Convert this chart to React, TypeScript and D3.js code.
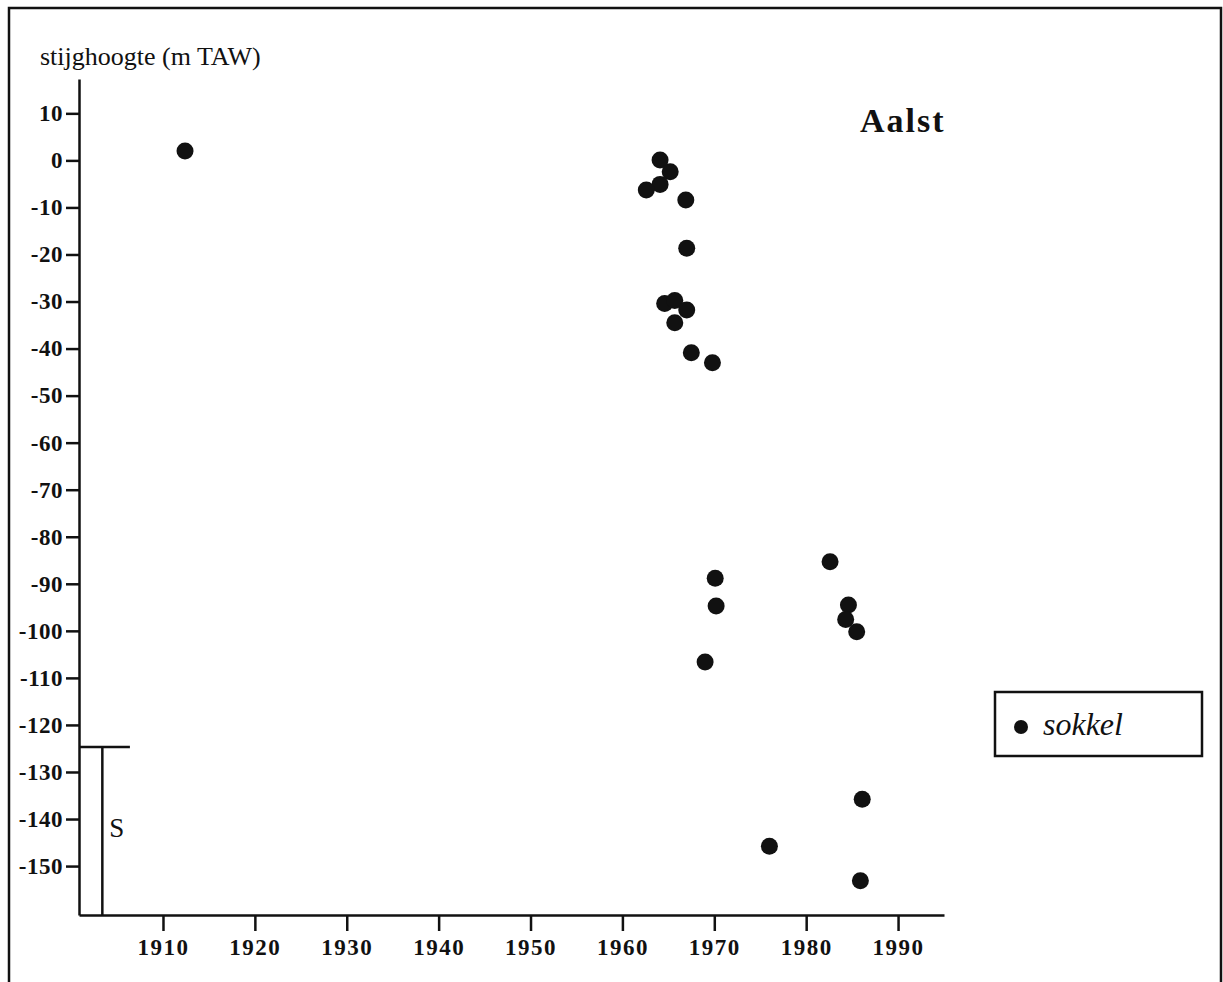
import React, { useEffect, useRef } from 'react';
import * as d3 from 'd3';

const years = [1912.4, 1964.1, 1965.2, 1964.1, 1962.6, 1966.9, 1967.0, 1964.6, 1965.7, 1967.0, 1965.7, 1967.5, 1969.8,
  1970.1, 1970.2, 1969.0, 1982.6, 1984.6, 1984.3, 1985.5, 1986.1, 1976.0, 1985.9];
const levels = [2.0, 0.1, -2.4, -5.1, -6.3, -8.4, -18.7, -30.4, -29.8, -31.8, -34.5, -40.9, -43.0,
  -88.8, -94.7, -106.6, -85.3, -94.5, -97.6, -100.2, -135.8, -145.8, -153.1];

const yTicks = [10, 0, -10, -20, -30, -40, -50, -60, -70, -80, -90, -100, -110, -120, -130, -140, -150];
const xTicks = [1910, 1920, 1930, 1940, 1950, 1960, 1970, 1980, 1990];

// sokkel boundary (S) on the left
const sokkelTop = -124.7;
const sokkelBar = [1903.4, 1906.4];

const W = 1223;
const H = 982;

export default function App() {
  const ref = useRef<SVGSVGElement>(null);

  useEffect(() => {
    const svg = d3.select(ref.current);
    svg.selectAll('*').remove();

    const x = d3.scaleLinear().domain([1900.86, 1995]).range([79, 944]);
    const y = d3.scaleLinear().domain([-160.4, 17.3]).range([915, 79]);
    const ink = '#111';
    const serif = '"Liberation Serif", serif';

    // outer frame
    svg.append('path')
      .attr('d', `M9,${H + 5} L9,8 L1221,8 L1221,${H + 5}`)
      .attr('fill', 'none')
      .attr('stroke', ink)
      .attr('stroke-width', 2.5);

    // y axis (plain hyphen, as in the scan)
    const yAxis = svg.append('g')
      .attr('transform', `translate(${x.range()[0]},0)`)
      .call(d3.axisLeft(y).tickValues(yTicks).tickFormat((d) => String(d)).tickSize(13).tickPadding(3).tickSizeOuter(0));
    yAxis.select('.domain').attr('stroke', ink).attr('stroke-width', 2.5);
    yAxis.selectAll('.tick line').attr('stroke', ink).attr('stroke-width', 2.5);
    yAxis.selectAll('.tick text')
      .attr('fill', ink)
      .attr('font-family', serif)
      .attr('font-size', 23)
      .attr('font-weight', 'bold')
      .attr('letter-spacing', 0.5);

    // x axis
    const xAxis = svg.append('g')
      .attr('transform', `translate(0,${y.range()[0]})`)
      .call(d3.axisBottom(x).tickValues(xTicks).tickFormat((d) => String(d)).tickSize(16).tickPadding(8).tickSizeOuter(0));
    xAxis.select('.domain').attr('stroke', ink).attr('stroke-width', 2.5);
    xAxis.selectAll('.tick line').attr('stroke', ink).attr('stroke-width', 2.5);
    xAxis.selectAll('.tick text')
      .attr('fill', ink)
      .attr('font-family', serif)
      .attr('font-size', 23)
      .attr('font-weight', 'bold')
      .attr('letter-spacing', 1.5);

    // axis title
    svg.append('text')
      .attr('x', 40)
      .attr('y', 65)
      .attr('font-family', serif)
      .attr('font-size', 26)
      .attr('fill', ink)
      .text('stijghoogte (m TAW)');

    // place name
    svg.append('text')
      .attr('x', 860)
      .attr('y', 132)
      .attr('font-family', serif)
      .attr('font-size', 34)
      .attr('font-weight', 'bold')
      .attr('letter-spacing', 2)
      .attr('fill', ink)
      .text('Aalst');

    // S block
    svg.append('line')
      .attr('x1', x.range()[0]).attr('x2', x(sokkelBar[1]))
      .attr('y1', y(sokkelTop)).attr('y2', y(sokkelTop))
      .attr('stroke', ink).attr('stroke-width', 2.5);
    svg.append('line')
      .attr('x1', x(sokkelBar[0])).attr('x2', x(sokkelBar[0]))
      .attr('y1', y(sokkelTop)).attr('y2', y.range()[0])
      .attr('stroke', ink).attr('stroke-width', 2.5);
    svg.append('text')
      .attr('x', x(sokkelBar[0]) + 7)
      .attr('y', 837)
      .attr('font-family', serif)
      .attr('font-size', 27)
      .attr('fill', ink)
      .text('S');

    // points
    svg.selectAll('.pt')
      .data(years)
      .enter()
      .append('circle')
      .attr('class', 'pt')
      .attr('cx', (d) => x(d))
      .attr('cy', (d, i) => y(levels[i]))
      .attr('r', 8.5)
      .attr('fill', ink);

    // legend
    svg.append('rect')
      .attr('x', 995).attr('y', 692)
      .attr('width', 207).attr('height', 64)
      .attr('fill', 'none')
      .attr('stroke', ink)
      .attr('stroke-width', 2.5);
    svg.append('circle')
      .attr('cx', 1021).attr('cy', 727).attr('r', 7)
      .attr('fill', ink);
    svg.append('text')
      .attr('x', 1043)
      .attr('y', 735)
      .attr('font-family', serif)
      .attr('font-size', 32)
      .attr('font-style', 'italic')
      .attr('fill', ink)
      .text('sokkel');
  }, []);

  return (
    <svg ref={ref} width={W} height={H}
      style={{ position: 'absolute', left: 0, top: 0, background: '#fff' }} />
  );
}
